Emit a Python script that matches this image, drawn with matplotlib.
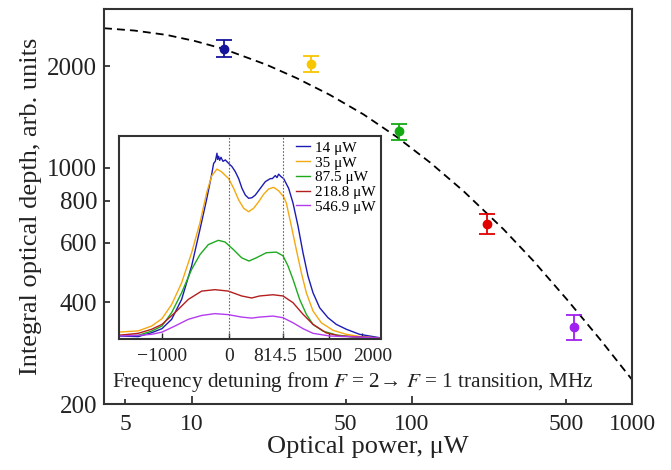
import matplotlib
matplotlib.use("Agg")
import matplotlib.pyplot as plt
from matplotlib.ticker import FixedLocator, FixedFormatter, NullLocator

plt.rcParams['font.family'] = ['Liberation Serif', 'DejaVu Serif']
plt.rcParams['mathtext.fontset'] = 'stix'

# main panel: integral optical depth vs optical power
power = [14, 35, 87.5, 218.8, 546.9]
depth = [2256, 2037, 1284, 684, 338]
depth_err = [130, 108, 70, 48, 28]
point_colors = ['#15159a', '#f7c600', '#14aa14', '#e00000', '#a020f0']

# dashed fit curve
fit_power = [4, 5.5, 7.7, 10.3, 13.9, 21.9, 30, 42.5, 60.3, 85.5, 121, 171.6, 261, 357, 506, 718, 1000]
fit_depth = [2593, 2552, 2477, 2378, 2254, 2021, 1845, 1645, 1441, 1235, 1038, 854, 658, 530, 408, 310, 236]

x_major = [10, 100, 1000]
x_minor = [5, 50, 500]
y_ticks = [200, 400, 600, 800, 1000, 2000]

# inset: absorption spectra (arb. units)
labels = ['14 \u03bcW', '35 \u03bcW', '87.5 \u03bcW', '218.8 \u03bcW', '546.9 \u03bcW']
line_colors = ['#1c1cb4', '#f5a810', '#1eaa1e', '#b41e1e', '#b43cf0']

det_14 = [-1660, -1360, -1160, -1005, -860, -710, -560, -435, -335, -260, -230, -205, -180,
          -170, -155, -140, -120, -90, -55, -5, 45, 95, 145, 195, 245, 295, 345, 395, 470,
          545, 620, 650, 695, 720, 745, 780, 820, 895, 960, 1035, 1110, 1185, 1260, 1360,
          1485, 1610, 1760, 1960, 2160, 2285]
od_14 = [0.015, 0.012, 0.031, 0.051, 0.097, 0.195, 0.36, 0.54, 0.688, 0.81, 0.865, 0.875, 0.915,
         0.885, 0.9, 0.88, 0.895, 0.875, 0.882, 0.865, 0.849, 0.824, 0.79, 0.742, 0.709, 0.693,
         0.696, 0.709, 0.742, 0.775, 0.79, 0.79, 0.805, 0.795, 0.812, 0.80, 0.79, 0.742, 0.67,
         0.557, 0.425, 0.31, 0.228, 0.154, 0.105, 0.072, 0.048, 0.023, 0.012, 0.005]

det_35 = [-1660, -1360, -1160, -1005, -860, -710, -560, -435, -335, -260, -180, -110, -5, 70,
          145, 220, 295, 370, 445, 520, 595, 670, 745, 820, 860, 935, 1010, 1085, 1160, 1260,
          1385, 1560, 1760, 2010, 2285]
od_35 = [0.034, 0.04, 0.064, 0.10, 0.17, 0.277, 0.425, 0.573, 0.72, 0.803, 0.837, 0.823, 0.79,
         0.742, 0.685, 0.644, 0.627, 0.644, 0.676, 0.713, 0.739, 0.747, 0.73, 0.70, 0.67, 0.557,
         0.44, 0.327, 0.228, 0.138, 0.08, 0.043, 0.023, 0.01, 0.005]

det_87 = [-1660, -1360, -1160, -1005, -860, -710, -560, -435, -310, -160, -60, 65, 190, 300,
          410, 560, 710, 810, 885, 960, 1060, 1160, 1260, 1410, 1610, 1860, 2285]
od_87 = [0.018, 0.018, 0.039, 0.064, 0.13, 0.228, 0.343, 0.416, 0.465, 0.486, 0.478, 0.441,
         0.40, 0.384, 0.40, 0.425, 0.428, 0.41, 0.36, 0.294, 0.195, 0.122, 0.072, 0.039, 0.02,
         0.01, 0.005]

det_218 = [-1660, -1360, -1160, -1005, -810, -610, -410, -210, -10, 190, 340, 460, 660, 810,
           960, 1110, 1260, 1460, 1660, 2285]
od_218 = [0.018, 0.028, 0.048, 0.072, 0.13, 0.195, 0.236, 0.243, 0.236, 0.212, 0.202, 0.212,
          0.218, 0.212, 0.179, 0.122, 0.072, 0.03, 0.015, 0.005]

det_547 = [-1660, -1360, -1160, -1005, -810, -610, -410, -210, -10, 190, 340, 460, 660, 810,
           960, 1110, 1260, 1510, 2285]
od_547 = [0.015, 0.018, 0.023, 0.034, 0.064, 0.097, 0.116, 0.125, 0.12, 0.108, 0.103, 0.108,
          0.113, 0.105, 0.08, 0.051, 0.028, 0.015, 0.005]

inset_ticks = [-1000, 0, 814.5, 1500, 2000]
inset_tick_labels = ['\u22121000', '0', '814.5', '1500', '2000']
label_shift_pt = [0, 0, -5.8, -4.7, 7.5]   # labels sit off their ticks in the original
marker_lines = [0, 814.5]

fig = plt.figure(figsize=(6.71, 4.70), dpi=100)
ax = fig.add_axes([0.155, 0.1404, 0.787, 0.8398])

ax.plot(fit_power, fit_depth, color='black', lw=1.3, dashes=(4.4, 2.8))
for p, d, e, c in zip(power, depth, depth_err, point_colors):
    ax.errorbar(p, d, yerr=e, fmt='o', color=c, ms=6, capsize=5.5,
                elinewidth=1.3, capthick=1.3)

ax.set_xscale('log')
ax.set_yscale('log')
ax.set_xlim(4, 1000)
ax.set_ylim(200, 2950)
ax.xaxis.set_major_locator(FixedLocator(x_major))
ax.xaxis.set_major_formatter(FixedFormatter([str(t) for t in x_major]))
ax.xaxis.set_minor_locator(FixedLocator(x_minor))
ax.xaxis.set_minor_formatter(FixedFormatter([str(t) for t in x_minor]))
ax.yaxis.set_major_locator(FixedLocator(y_ticks))
ax.yaxis.set_major_formatter(FixedFormatter([str(t) for t in y_ticks]))
ax.yaxis.set_minor_locator(NullLocator())
ax.tick_params(axis='x', which='major', direction='in', length=6, width=1.2,
               labelsize=17, colors='#222222', pad=7)
ax.tick_params(axis='x', which='minor', direction='in', length=3.5, width=1.2,
               labelsize=17, colors='#222222', pad=7)
ax.tick_params(axis='y', direction='in', length=4.5, width=1.2, labelsize=18,
               colors='#222222', pad=5)
for s in ax.spines.values():
    s.set_linewidth(1.5)
    s.set_color('#333333')
ax.set_xlabel('Optical power, \u03bcW', fontsize=19, color='#222222', labelpad=1)
ax.set_ylabel('Integral optical depth, arb. units', fontsize=19, color='#222222', labelpad=4)

# inset
ins = fig.add_axes([0.1773, 0.2787, 0.3905, 0.432])
dets = [det_14, det_35, det_87, det_218, det_547]
ods = [od_14, od_35, od_87, od_218, od_547]
for x, y, c, lab in zip(dets, ods, line_colors, labels):
    ins.plot(x, y, color=c, lw=1.0, label=lab)
for m in marker_lines:
    ins.axvline(m, color='#666666', lw=0.8, ls=(0, (1.5, 1.5)))
ins.set_xlim(-1650, 2280)
ins.set_ylim(0, 1)
ins.set_xticks(inset_ticks)
ins.set_xticklabels([])
ins.set_yticks([])
ins.tick_params(direction='in', length=4, width=1.0, colors='#222222')
for t, lab, dx in zip(inset_ticks, inset_tick_labels, label_shift_pt):
    ins.annotate(lab, xy=(t, 0), xycoords=('data', 'axes fraction'),
                 xytext=(dx, -6.5), textcoords='offset points',
                 ha='center', va='top', fontsize=14, color='#222222',
                 annotation_clip=False)
for s in ins.spines.values():
    s.set_linewidth(1.5)
    s.set_color('#333333')
ins.legend(loc='upper left', bbox_to_anchor=(0.675, 0.975), frameon=False, fontsize=11,
           handlelength=0.95, handletextpad=0.3, labelspacing=0.07, borderpad=0,
           borderaxespad=0)

fig.text(112 / 671, 1 - 382 / 470,
         'Frequency detuning from $F$ = 2\u2192 $F$ = 1 transition, MHz',
         fontsize=15.3, ha='left', va='center', color='#222222')

fig.savefig('out.png', dpi=100)
